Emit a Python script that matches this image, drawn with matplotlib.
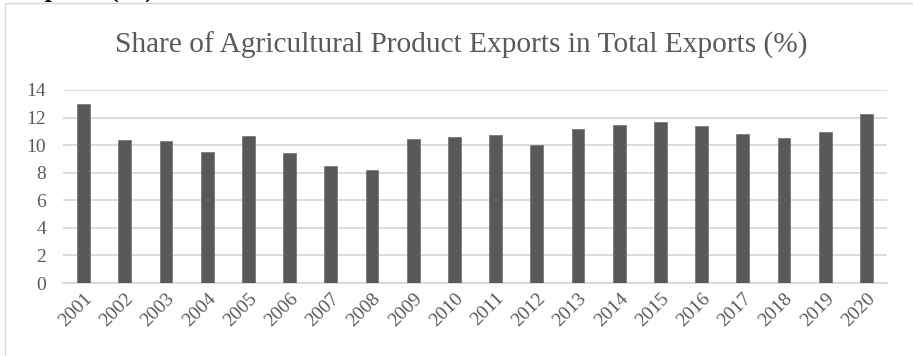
import matplotlib
matplotlib.use("Agg")
import matplotlib.pyplot as plt
from matplotlib.patches import Rectangle

years = ["2001", "2002", "2003", "2004", "2005", "2006", "2007", "2008", "2009", "2010",
         "2011", "2012", "2013", "2014", "2015", "2016", "2017", "2018", "2019", "2020"]
share = [12.98, 10.36, 10.29, 9.52, 10.65, 9.42, 8.52, 8.23, 10.48, 10.58,
         10.70, 10.00, 11.19, 11.43, 11.67, 11.41, 10.78, 10.51, 10.92, 12.23]
yticks = [0, 2, 4, 6, 8, 10, 12, 14]
title = "Share of Agricultural Product Exports in Total Exports (%)"
caption = "Exports (%)"

W, H = 913, 356
fig = plt.figure(figsize=(W / 100, H / 100), dpi=100)
serif = ["Liberation Serif", "DejaVu Serif"]
txt = "#595959"
grid = "#d9d9d9"

# outer chart frame (extends past right/bottom edge)
fig.patches.append(Rectangle((5 / W, 0 - 0.1), 1.2, 1 - 3 / H + 0.1,
                             transform=fig.transFigure, fill=False,
                             edgecolor=grid, linewidth=1.0))

# clipped caption at the top
fig.text(14 / W, 1 + 2.5 / H, caption, family=serif, fontweight="bold",
         fontsize=19, color="black", ha="left", va="baseline")

ax = fig.add_axes([63 / W, 1 - 283 / H, (887 - 63) / W, (283 - 90) / H])
x = range(len(years))
ax.bar(x, share, width=0.31, color="#595959", edgecolor="#6f6f6f", linewidth=0.5, zorder=3)
ax.set_xlim(-0.5, len(years) - 0.5)
ax.set_ylim(0, 14)
ax.set_yticks(yticks)
ax.set_yticklabels([str(v) for v in yticks])
ax.set_xticks(list(x))
ax.set_xticklabels(years, rotation=45, ha="right", va="top", rotation_mode="anchor")
ax.yaxis.grid(True, color=grid, linewidth=1.3, zorder=0)
for s in ["top", "right", "left"]:
    ax.spines[s].set_visible(False)
ax.spines["bottom"].set_color(grid)
ax.spines["bottom"].set_linewidth(1.3)
ax.tick_params(axis="both", length=0, labelcolor=txt, labelsize=14)
ax.tick_params(axis="y", pad=12)
ax.tick_params(axis="x", pad=5)
for lab in ax.get_xticklabels() + ax.get_yticklabels():
    lab.set_family(serif)

fig.text(461 / W, 1 - 53 / H, title, family=serif, fontsize=21.2, color=txt,
         ha="center", va="baseline")

fig.savefig("out.png", dpi=100)
